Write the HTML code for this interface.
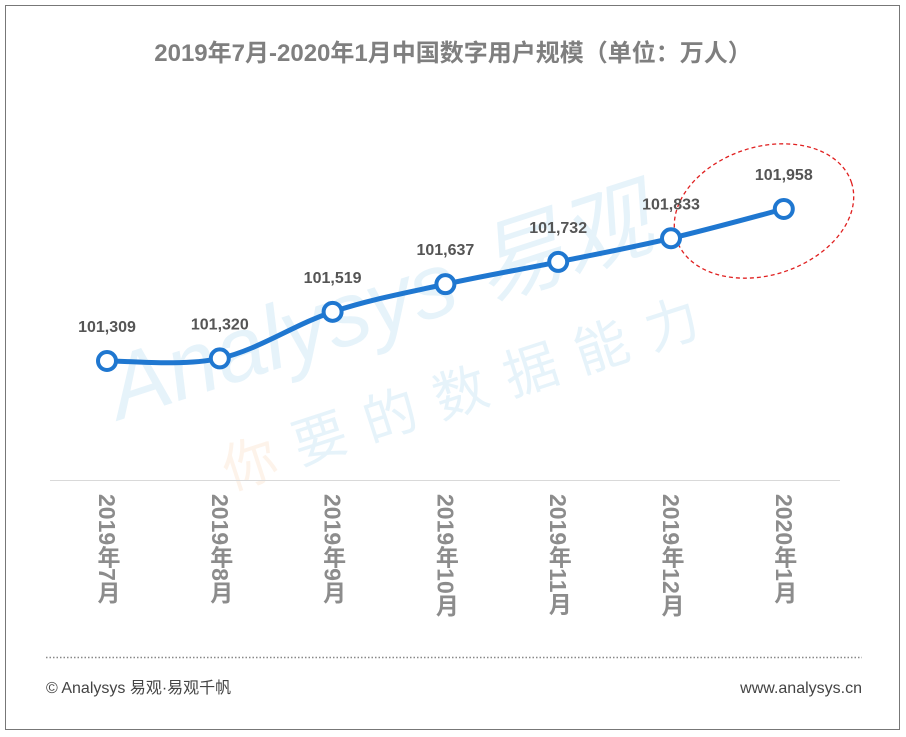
<!DOCTYPE html>
<html><head><meta charset="utf-8"><style>
body{margin:0;width:906px;height:737px;background:#fff;font-family:"Liberation Sans","Noto Sans CJK SC",sans-serif;}
svg{display:block}
</style></head><body>
<svg id="c" width="906" height="737">
<rect x="5.5" y="5.5" width="894" height="724" fill="#fff" stroke="#777" stroke-width="1"/>
<text x="453" y="61" text-anchor="middle" font-size="24" font-weight="bold" fill="#7f7f7f" font-family="Liberation Sans,Noto Sans CJK SC,sans-serif">2019年7月-2020年1月中国数字用户规模（单位：万人）</text>
<g opacity="0.12">
<text x="120" y="420" font-size="90" font-style="italic" fill="#3aa0d8" transform="rotate(-18 120 420)" font-family="Liberation Sans,sans-serif">Analysys 易观</text>
<text x="230" y="490" font-size="54" fill="#f5a05a" transform="rotate(-18 230 490)" font-family="Noto Sans CJK SC,sans-serif">你</text>
<text x="300" y="465" font-size="54" fill="#3aa0d8" letter-spacing="20" transform="rotate(-18 300 465)" font-family="Noto Sans CJK SC,sans-serif">要的数据能力</text>
</g>
<line x1="50" y1="480.5" x2="840" y2="480.5" stroke="#d9d9d9" stroke-width="1"/>
<ellipse cx="764" cy="211" rx="92" ry="64" transform="rotate(-18 764 211)" fill="none" stroke="#e02020" stroke-width="1.3" stroke-dasharray="4,3"/>
<g id="plot"></g>
<line x1="46" y1="657.5" x2="862" y2="657.5" stroke="#888" stroke-width="1.5" stroke-dasharray="1.5,2"/>
<text x="46" y="693" font-size="16" fill="#444">© Analysys 易观·易观千帆</text>
<text x="862" y="693" font-size="16" fill="#444" text-anchor="end">www.analysys.cn</text>
</svg>
<script>
const categories=["2019年7月","2019年8月","2019年9月","2019年10月","2019年11月","2019年12月","2020年1月"];
const values=[101309,101320,101519,101637,101732,101833,101958];
const valueLabels=["101,309","101,320","101,519","101,637","101,732","101,833","101,958"];
const NS="http://www.w3.org/2000/svg";
const g=document.getElementById('plot');
const x=i=>107+i*112.8;
const y=v=>361-(v-101309)*0.2342;
function mk(t,a){const e=document.createElementNS(NS,t);for(const k in a)e.setAttribute(k,a[k]);g.appendChild(e);return e;}
const pts=values.map((v,i)=>[x(i),y(v)]);
let d=`M${pts[0][0]},${pts[0][1]}`;
for(let i=0;i<pts.length-1;i++){
 const p0=pts[i-1]||pts[i],p1=pts[i],p2=pts[i+1],p3=pts[i+2]||p2,t=0.17;
 d+=` C${p1[0]+(p2[0]-p0[0])*t},${p1[1]+(p2[1]-p0[1])*t} ${p2[0]-(p3[0]-p1[0])*t},${p2[1]-(p3[1]-p1[1])*t} ${p2[0]},${p2[1]}`;
}
const line=mk('path',{d:d,fill:'none',stroke:'#1f77d0','stroke-width':5,'stroke-linecap':'round'});


values.forEach((v,i)=>{
 const c=mk('circle',{cx:x(i),cy:y(v),r:9,fill:'#fff',stroke:'#1f77d0','stroke-width':4});
 
 
 const t=mk('text',{x:x(i),y:y(v)-29,'text-anchor':'middle','font-size':16,'font-weight':'bold',fill:'#555'});
 t.textContent=valueLabels[i];
 
 
 const l=mk('text',{x:x(i),y:494,'font-size':23,'font-weight':'bold',fill:'#8c8c8c'});
 l.setAttribute('style','writing-mode:vertical-rl;text-orientation:mixed');
 l.textContent=categories[i];
 
 
});
</script>
</body></html>
